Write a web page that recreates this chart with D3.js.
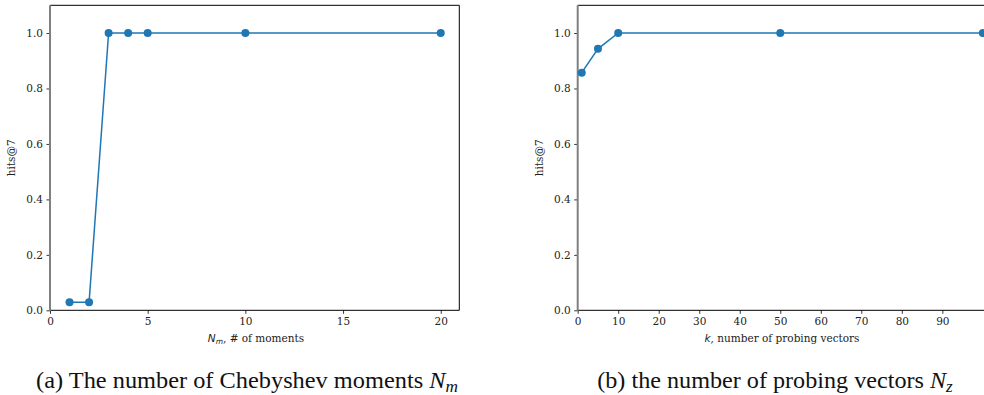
<!DOCTYPE html>
<html>
<head>
<meta charset="utf-8">
<script src="https://cdn.jsdelivr.net/npm/d3@7"></script>
<style>
  body { margin: 0; background: #fff; }
  svg { display: block; }
</style>
</head>
<body>
<svg id="chart" width="984" height="395"></svg>
<script>
const width = 984;
const height = 395;
const blue = '#1f77b4';
const serif = "'DejaVu Serif', serif";
const sans = "'DejaVu Sans', sans-serif";
const times = "'Liberation Serif', 'Times New Roman', serif";
const small = '10.5px';

// data
const momentsX = [1, 2, 3, 4, 5, 10, 20];
const momentsHits = [0.0286, 0.0286, 1.0, 1.0, 1.0, 1.0, 1.0];
const probesX = [1, 5, 10, 50, 100];
const probesHits = [0.857, 0.943, 1.0, 1.0, 1.0];

const yTicks = [0.0, 0.2, 0.4, 0.6, 0.8, 1.0];
const momentsTicks = [0, 5, 10, 15, 20];
const probesTicks = [0, 10, 20, 30, 40, 50, 60, 70, 80, 90];

const svg = d3.select('#chart');

function panel(opts) {
  const { left, right, top, bottom, xDomain, xs, ys, xTicks } = opts;

  let x = d3.scaleLinear().domain(xDomain).range([left, right]);
  let y = d3.scaleLinear().domain([0, 1.1]).range([bottom, top]);

  let g = svg.append('g');

  // x axis
  g.append('g')
    .attr('transform', `translate(0,${bottom})`)
    .call(d3.axisBottom(x).tickValues(xTicks).tickFormat(d3.format('d')).tickSize(3.5).tickPadding(3.5))
    .call(a => a.select('.domain').remove())
    .call(a => a.selectAll('.tick line').attr('stroke', '#000').attr('stroke-width', 0.8))
    .call(a => a.selectAll('.tick text').style('font-family', serif).style('font-size', small).attr('fill', '#222'));

  // y axis
  g.append('g')
    .attr('transform', `translate(${left},0)`)
    .call(d3.axisLeft(y).tickValues(yTicks).tickFormat(d3.format('.1f')).tickSize(3.5).tickPadding(3.5))
    .call(a => a.select('.domain').remove())
    .call(a => a.selectAll('.tick line').attr('stroke', '#000').attr('stroke-width', 0.8))
    .call(a => a.selectAll('.tick text').style('font-family', serif).style('font-size', small).attr('fill', '#222'));

  // spines
  g.append('line').attr('x1', left).attr('x2', right).attr('y1', top).attr('y2', top)
    .attr('stroke', '#000').attr('stroke-width', 1);
  g.append('line').attr('x1', right).attr('x2', right).attr('y1', top).attr('y2', bottom)
    .attr('stroke', '#000').attr('stroke-width', 1);
  g.append('line').attr('x1', left).attr('x2', right).attr('y1', bottom).attr('y2', bottom)
    .attr('stroke', '#000').attr('stroke-width', 1);
  g.append('line').attr('x1', left).attr('x2', left).attr('y1', top).attr('y2', bottom + 0.5)
    .attr('stroke', '#808080').attr('stroke-width', 2);

  let pts = xs.map((d, i) => [d, ys[i]]);
  let line = d3.line().x(d => x(d[0])).y(d => y(d[1]));

  g.append('path')
    .datum(pts)
    .attr('d', line)
    .attr('fill', 'none')
    .attr('stroke', blue)
    .attr('stroke-width', 1.5);

  g.selectAll('circle.pt')
    .data(pts)
    .enter()
    .append('circle')
    .attr('class', 'pt')
    .attr('cx', d => x(d[0]))
    .attr('cy', d => y(d[1]))
    .attr('r', 4)
    .attr('fill', blue);

  // y label
  g.append('text')
    .attr('transform', `translate(${left - 35},${(top + bottom) / 2}) rotate(-90)`)
    .attr('text-anchor', 'middle')
    .style('font-family', serif)
    .style('font-size', small)
    .attr('fill', '#222')
    .text('hits@7');

  return { x, y, g };
}

function xLabel(g, cx, mathVar, sub, rest) {
  let t = g.append('text')
    .attr('x', cx)
    .attr('y', 342)
    .attr('text-anchor', 'middle')
    .style('font-family', serif)
    .style('font-size', small)
    .attr('fill', '#222');
  t.append('tspan').style('font-family', sans).style('font-style', 'italic').text(mathVar);
  if (sub) {
    t.append('tspan').style('font-family', sans).style('font-style', 'italic')
      .style('font-size', '7.5px').attr('dy', 1.5).text(sub);
    t.append('tspan').attr('dy', -1.5).text(rest);
  } else {
    t.append('tspan').text(rest);
  }
}

// (a) Chebyshev moments
let a = panel({
  left: 50, right: 459.3, top: 5.3, bottom: 310.3,
  xDomain: [0, 20.95], xs: momentsX, ys: momentsHits, xTicks: momentsTicks
});
xLabel(a.g, 256, 'N', 'm', ', # of moments');

// (b) probing vectors
let b = panel({
  left: 577.7, right: 1002.9, top: 5.3, bottom: 310.3,
  xDomain: [0, 104.95], xs: probesX, ys: probesHits, xTicks: probesTicks
});
xLabel(b.g, 782, 'k', null, ', number of probing vectors');

// captions, stretched a little to the span they take in the figure
function caption(x0, x1, label, sub) {
  let cx = (x0 + x1) / 2;
  let t = svg.append('text')
    .attr('x', 0)
    .attr('y', 0)
    .attr('text-anchor', 'middle')
    .style('font-family', times)
    .style('font-size', '24px')
    .attr('fill', '#111');
  t.append('tspan').text(label + ' ');
  t.append('tspan').style('font-style', 'italic').text('N');
  t.append('tspan').style('font-style', 'italic').style('font-size', '17px').attr('dy', 4).text(sub);
  let w = t.node().getBBox().width;
  let sx = (x1 - x0) / w;
  t.attr('transform', `translate(${cx},388) scale(${sx},1)`);
  return t;
}
caption(36, 458, '(a) The number of Chebyshev moments', 'm');
caption(597, 953, '(b) the number of probing vectors', 'z');
</script>
</body>
</html>
